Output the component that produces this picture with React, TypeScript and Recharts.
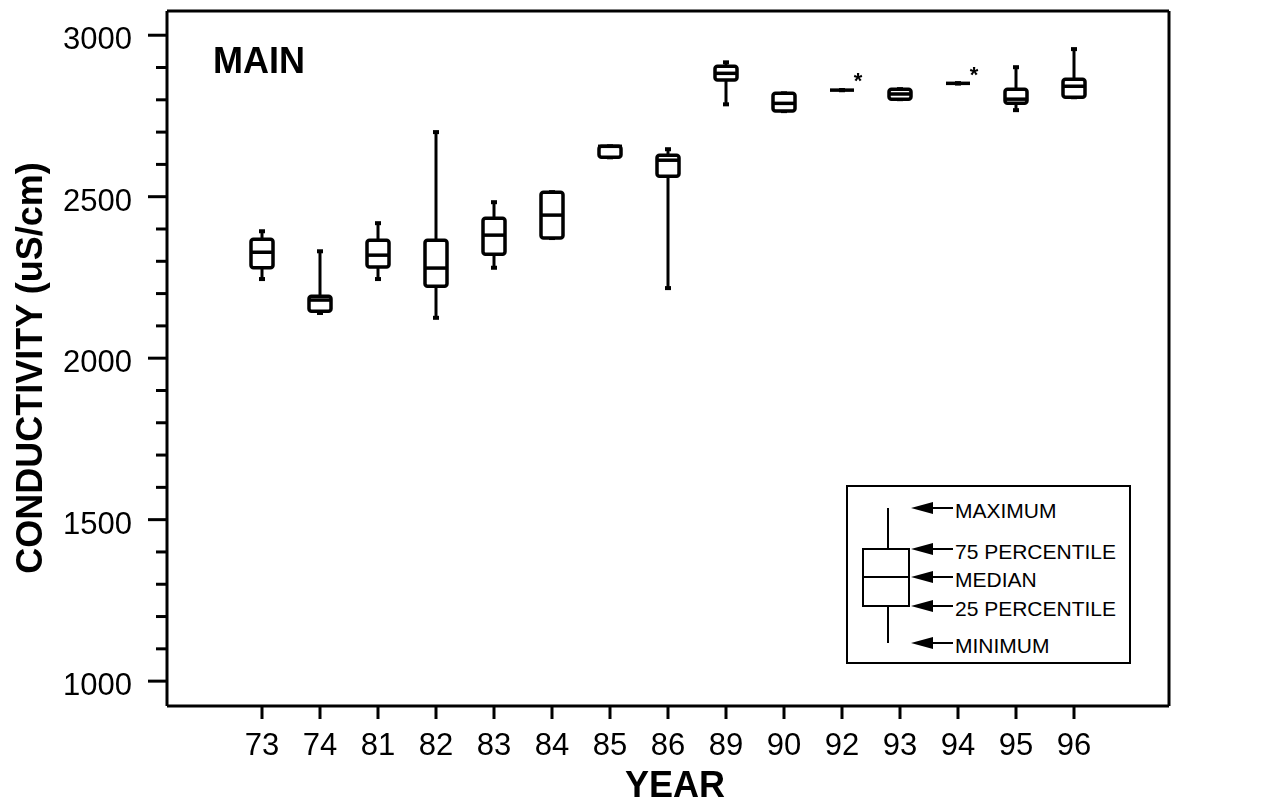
import { ComposedChart, Bar, Scatter, XAxis, YAxis, Legend, ReferenceLine } from 'recharts'

// yearly conductivity summaries (uS/cm)
const years = ['73', '74', '81', '82', '83', '84', '85', '86', '89', '90', '92', '93', '94', '95', '96']
const minimum = [2245, 2140, 2245, 2125, 2280, 2372, 2622, 2217, 2786, 2765, 2830, 2802, 2851, 2768, 2808]
const q1 = [2280, 2145, 2282, 2223, 2322, 2372, 2622, 2563, 2861, 2765, 2830, 2802, 2851, 2789, 2808]
const median = [2328, 2180, 2319, 2279, 2381, 2443, 2656, 2613, 2882, 2789, 2830, 2818, 2851, 2802, 2842]
const q3 = [2368, 2192, 2365, 2365, 2433, 2514, 2656, 2628, 2904, 2820, 2830, 2833, 2851, 2833, 2864]
const maximum = [2393, 2331, 2418, 2700, 2483, 2514, 2656, 2647, 2916, 2820, 2830, 2833, 2851, 2901, 2957]
const outliers = [null, null, null, null, null, null, null, null, null, null, 2873, null, 2892, null, null]

const yTicks = [1000, 1100, 1200, 1300, 1400, 1500, 1600, 1700, 1800, 1900, 2000, 2100, 2200, 2300, 2400, 2500, 2600, 2700, 2800, 2900, 3000]
const yLabels = [1000, 1500, 2000, 2500, 3000]
const keyLabels = ['MAXIMUM', '75 PERCENTILE', 'MEDIAN', '25 PERCENTILE', 'MINIMUM']

const data = years.map((year, i) => ({
  year,
  range: [minimum[i], maximum[i]],
  box: [q1[i], q3[i]],
  median: median[i],
  outlier: outliers[i],
}))

const FONT = '"Liberation Sans", Arial, Helvetica, sans-serif'
const INK = '#000'
const HALF = 11
const LINE = 3.5
const Y_DOMAIN = [923, 3075]
const X_PAD = { left: 66, right: 66 }

function Whisker(props: any) {
  const { x, y, width, height } = props
  const cx = x + width / 2
  const top = Math.min(y, y + height)
  const bottom = Math.max(y, y + height)
  return (
    <g>
      <line x1={cx} x2={cx} y1={top} y2={bottom} stroke={INK} strokeWidth={3} />
      <rect x={cx - 3} y={top - 2} width={6} height={4} fill={INK} />
      <rect x={cx - 3} y={bottom - 2} width={6} height={4} fill={INK} />
    </g>
  )
}

function BoxBody(props: any) {
  const { x, y, width, height } = props
  const cx = x + width / 2
  const top = Math.min(y, y + height)
  const bottom = Math.max(y, y + height)
  return (
    <rect x={cx - HALF} y={top} width={HALF * 2} height={bottom - top}
      fill="#fff" stroke={INK} strokeWidth={LINE} rx={2.5} />
  )
}

function MedianMark(props: any) {
  const { cx, cy } = props
  return <line x1={cx - 12} x2={cx + 12} y1={cy} y2={cy} stroke={INK} strokeWidth={LINE} />
}

function OutlierMark(props: any) {
  const { cx, cy, payload } = props
  if (payload == null || payload.outlier == null) return <g />
  return (
    <text x={cx + 16} y={cy + 12} textAnchor="middle" fontSize={22} fontWeight="bold"
      fontFamily={FONT} fill={INK}>*</text>
  )
}

function LeftTick(props: any) {
  const { x, y, payload } = props
  const major = yLabels.includes(payload.value)
  return (
    <g>
      <line x1={x - (major ? 19 : 11)} x2={x} y1={y} y2={y} stroke={INK} strokeWidth={3} />
      {major && (
        <text x={x - 35} y={y + 14} textAnchor="end" fontSize={31} fontFamily={FONT} fill={INK}>
          {payload.value}
        </text>
      )}
    </g>
  )
}

function RightTick(props: any) {
  const { x, y, payload } = props
  const major = yLabels.includes(payload.value)
  return (
    <g>
      <line x1={x} x2={x + (major ? 19 : 9)} y1={y} y2={y} stroke={INK} strokeWidth={3} />
      {major && (
        <text x={x + 26} y={y + 14} textAnchor="start" fontSize={31} fontFamily={FONT} fill={INK}>
          {payload.value}
        </text>
      )}
    </g>
  )
}

function YearTick(props: any) {
  const { x, y, payload } = props
  return (
    <g>
      <line x1={x} x2={x} y1={y} y2={y + 13} stroke={INK} strokeWidth={3} />
      <text x={x} y={y + 49} textAnchor="middle" fontSize={31} fontFamily={FONT} fill={INK}>
        {payload.value}
      </text>
    </g>
  )
}

// explanation key: a sample box with arrows to each statistic
function BoxKey() {
  const levels = [24, 65, 93, 122, 159]
  return (
    <svg width={289} height={183} style={{ display: 'block' }}>
      <rect x={2} y={2} width={283} height={177} fill="#fff" stroke={INK} strokeWidth={2} />
      <line x1={43} x2={43} y1={levels[0]} y2={levels[1]} stroke={INK} strokeWidth={2} />
      <line x1={43} x2={43} y1={levels[3]} y2={levels[4]} stroke={INK} strokeWidth={2} />
      <rect x={18} y={levels[1]} width={46} height={levels[3] - levels[1]} fill="none" stroke={INK} strokeWidth={2} />
      <line x1={18} x2={64} y1={levels[2]} y2={levels[2]} stroke={INK} strokeWidth={2} />
      {keyLabels.map((label, i) => (
        <g key={label}>
          <path d={`M66 ${levels[i]} L88 ${levels[i] - 6} L88 ${levels[i] + 6} Z`} fill={INK} />
          <line x1={86} x2={108} y1={levels[i]} y2={levels[i]} stroke={INK} strokeWidth={2} />
          <text x={110} y={levels[i] + 10} fontSize={21} fontFamily={FONT} fill={INK}>{label}</text>
        </g>
      ))}
    </svg>
  )
}

export default function App() {
  return (
    <div style={{ position: 'fixed', left: 8, top: 8 }}>
      <ComposedChart width={1265} height={796} data={data}
        margin={{ top: 3, right: 0, bottom: 0, left: 0 }}>
        <XAxis dataKey="year" type="category" padding={X_PAD} height={98} interval={0}
          tickSize={0} tickMargin={0} tickLine={false} tick={<YearTick />}
          axisLine={{ stroke: INK, strokeWidth: 3 }} />
        <XAxis xAxisId="box" dataKey="year" type="category" padding={X_PAD} hide />
        <YAxis type="number" domain={Y_DOMAIN} ticks={yTicks} interval={0} width={159}
          tickSize={0} tickMargin={0} tickLine={false} tick={<LeftTick />}
          axisLine={{ stroke: INK, strokeWidth: 3 }} />
        <YAxis yAxisId="right" orientation="right" type="number" domain={Y_DOMAIN} ticks={yTicks}
          interval={0} width={104} tickSize={0} tickMargin={0} tickLine={false} tick={<RightTick />}
          axisLine={{ stroke: INK, strokeWidth: 3 }} />

        {/* top edge of the frame */}
        <ReferenceLine y={Y_DOMAIN[1]} stroke={INK} strokeWidth={3} ifOverflow="visible" />

        <Bar dataKey="range" barSize={22} shape={<Whisker />} isAnimationActive={false} />
        <Bar dataKey="box" xAxisId="box" barSize={22} shape={<BoxBody />} isAnimationActive={false} />
        <Scatter dataKey="median" shape={<MedianMark />} isAnimationActive={false} />
        <Scatter dataKey="outlier" shape={<OutlierMark />} isAnimationActive={false} />

        <Legend layout="horizontal" align="center" verticalAlign="middle" content={<BoxKey />}
          wrapperStyle={{ position: 'absolute', left: 837, top: 476, width: 289, height: 183 }} />

        <text x={205} y={65} fontSize={36} fontWeight="bold" fontFamily={FONT} fill={INK}>MAIN</text>
        <text x={667} y={789} textAnchor="middle" fontSize={36} fontWeight="bold" fontFamily={FONT} fill={INK}>YEAR</text>
        <text x={34} y={360} transform="rotate(-90 34 360)" textAnchor="middle" fontSize={36}
          fontWeight="bold" fontFamily={FONT} fill={INK}>CONDUCTIVITY (uS/cm)</text>
      </ComposedChart>
    </div>
  )
}
